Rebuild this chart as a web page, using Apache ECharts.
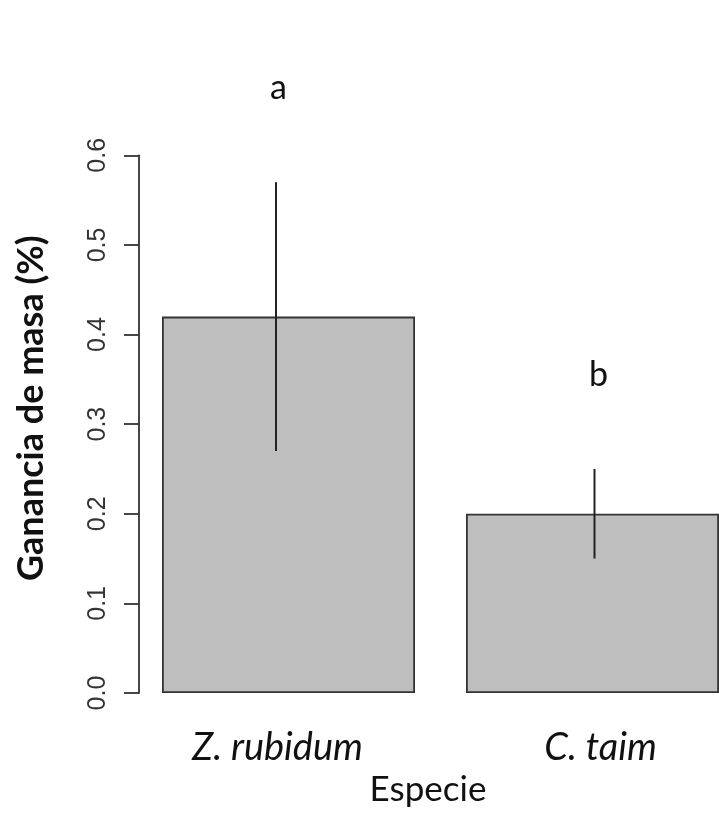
<!DOCTYPE html>
<html>
<head>
<meta charset="utf-8">
<script src="https://cdn.jsdelivr.net/npm/echarts@6/dist/echarts.min.js"></script>
<style>
  html, body { margin: 0; padding: 0; background: #fff; }
  #chart { width: 719px; height: 834px; }
</style>
</head>
<body>
<div id="chart"></div>
<script>
// Mass gain per species: mean with error range, plus significance letters
const categories = ['Z. rubidum', 'C. taim'];
const meanGain = [0.42, 0.20];
const errLow = [0.27, 0.15];
const errHigh = [0.57, 0.25];
const groupLetters = ['a', 'b'];
const yTicks = { min: 0, max: 0.6, interval: 0.1 };

// horizontal nudges (px) for the hand-placed whiskers, letters and names
const whiskerShift = [-12.5, 2];
const letterShift = [-10, 6];
const nameShift = [-11, 8];

const chart = echarts.init(document.getElementById('chart'), null, { renderer: 'canvas' });

const option = {
  backgroundColor: '#ffffff',
  animation: false,
  // plot band runs past the right edge, so the second bar is clipped by the canvas
  grid: {
    left: 136.5, right: -25.5, top: 155.3, bottom: 141,
    containLabel: false, outerBoundsMode: 'none'
  },
  xAxis: {
    type: 'category',
    data: categories,
    boundaryGap: true,
    axisLine: { show: false },
    axisTick: { show: false },
    axisLabel: {
      margin: 36,
      formatter: (v, i) => '{c' + i + '|' + v + '}',
      rich: {
        c0: { fontFamily: 'Lato', fontStyle: 'italic', fontSize: 38, color: '#111',
              padding: [0, -2 * nameShift[0], 0, 0] },
        c1: { fontFamily: 'Lato', fontStyle: 'italic', fontSize: 38, color: '#111',
              padding: [0, 0, 0, 2 * nameShift[1]] }
      }
    },
    name: 'Especie',
    nameLocation: 'middle',
    nameGap: 77,
    nameTextStyle: { fontFamily: 'Lato', fontSize: 35, color: '#111', padding: [0, 25, 0, 0] }
  },
  yAxis: {
    type: 'value',
    min: yTicks.min,
    max: yTicks.max,
    interval: yTicks.interval,
    offset: -2.5,
    splitLine: { show: false },
    axisLine: { show: true, lineStyle: { color: '#333', width: 1.8 } },
    axisTick: { show: true, length: 15, lineStyle: { color: '#333', width: 1.8 } },
    axisLabel: {
      rotate: 90,
      margin: 28,
      fontFamily: 'Liberation Sans',
      fontSize: 25,
      color: '#333',
      formatter: v => v.toFixed(1)
    },
    name: 'Ganancia de masa (%)',
    nameLocation: 'middle',
    nameRotate: 90,
    nameGap: 90,
    nameTextStyle: {
      fontFamily: 'Lato', fontWeight: 'bold', fontSize: 36, color: '#111',
      padding: [0, 0, 0, 32]
    }
  },
  series: [
    {
      type: 'bar',
      data: meanGain,
      barWidth: 253,
      itemStyle: { color: '#bebebe', borderColor: '#333', borderWidth: 1.8 }
    },
    {
      type: 'custom',
      data: categories.map((c, i) => [i, errLow[i], errHigh[i]]),
      z: 5,
      renderItem: (params, api) => {
        const i = api.value(0);
        const lo = api.coord([i, api.value(1)]);
        const hi = api.coord([i, api.value(2)]);
        const x = lo[0] + whiskerShift[params.dataIndex];
        return {
          type: 'line',
          shape: { x1: x, y1: lo[1], x2: x, y2: hi[1] },
          style: { stroke: '#222', lineWidth: 2 }
        };
      }
    },
    {
      type: 'custom',
      data: categories.map((c, i) => [i, errHigh[i]]),
      z: 6,
      renderItem: (params, api) => {
        const p = api.coord([api.value(0), api.value(1)]);
        return {
          type: 'text',
          x: p[0] + letterShift[params.dataIndex],
          y: p[1] - 94,
          style: {
            text: groupLetters[params.dataIndex],
            fontFamily: 'Lato',
            fontSize: 34,
            fill: '#111',
            align: 'center',
            verticalAlign: 'middle'
          }
        };
      }
    }
  ]
};

chart.setOption(option);
</script>
</body>
</html>
